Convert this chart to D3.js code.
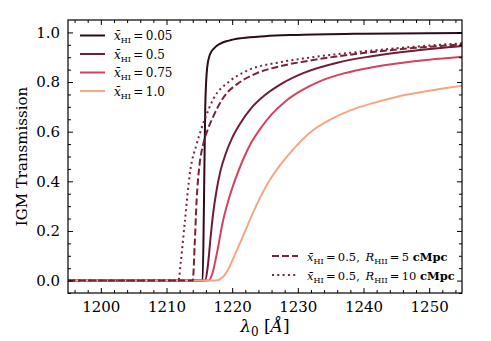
<!DOCTYPE html>
<html>
<head>
<meta charset="utf-8">
<script src="https://cdn.jsdelivr.net/npm/d3@7"></script>
<style>
  body { margin: 0; background: #fff; }
  svg, svg text { font-family: "DejaVu Serif", serif; }
</style>
</head>
<body>
<div id="chart"></div>
<script>
const W = 491, H = 341;
const margin = { left: 68, right: 29, top: 20, bottom: 48 };

// curves (wavelength in Angstrom, transmission)
const lamBlack = [1195, 1215.5, 1215.7, 1215.9, 1216.2, 1216.6, 1217.2, 1218.2, 1219.5, 1221.5, 1225, 1230, 1240, 1255];
const tBlack   = [0, 0, 0.3, 0.7, 0.86, 0.91, 0.935, 0.955, 0.967, 0.977, 0.985, 0.99, 0.995, 0.998];

const lamHalf = [1195, 1215.9, 1216.3, 1216.7, 1217.1, 1217.6, 1218.2, 1219, 1220, 1221.2, 1223, 1225, 1227.5, 1231, 1236, 1241, 1248, 1255];
const tHalf   = [0, 0, 0.06, 0.17, 0.27, 0.36, 0.44, 0.51, 0.575, 0.632, 0.698, 0.748, 0.793, 0.838, 0.878, 0.903, 0.927, 0.945];

const lamThreeQ = [1195, 1216.4, 1217, 1217.6, 1218.6, 1219.5, 1220.5, 1221.7, 1223, 1224.5, 1226, 1228, 1230.5, 1233.5, 1237, 1241, 1246, 1250, 1255];
const tThreeQ   = [0, 0, 0.03, 0.1, 0.24, 0.33, 0.41, 0.49, 0.56, 0.62, 0.67, 0.72, 0.765, 0.805, 0.835, 0.858, 0.878, 0.89, 0.902];

const lamOne = [1195, 1217.5, 1218.5, 1219.5, 1220.5, 1221.5, 1222.7, 1224, 1225.5, 1227.3, 1229.5, 1232, 1235, 1238, 1241, 1245, 1250, 1255];
const tOne   = [0, 0, 0.012, 0.05, 0.11, 0.17, 0.245, 0.32, 0.395, 0.465, 0.535, 0.6, 0.65, 0.686, 0.712, 0.74, 0.765, 0.785];

const lamR5 = [1195, 1214.0, 1214.3, 1214.6, 1215.0, 1215.6, 1216.3, 1217.1, 1218.6, 1221.2, 1223.7, 1227.3, 1230.8, 1235.9, 1241, 1248, 1255];
const tR5   = [0, 0, 0.15, 0.33, 0.46, 0.55, 0.61, 0.66, 0.735, 0.8, 0.835, 0.864, 0.882, 0.903, 0.92, 0.938, 0.952];

const lamR10 = [1195, 1211.8, 1212.2, 1212.8, 1213.6, 1214.6, 1215.9, 1217.1, 1219.7, 1222.2, 1227.3, 1230.8, 1235.9, 1241, 1248, 1255];
const tR10   = [0, 0, 0.08, 0.24, 0.44, 0.55, 0.655, 0.73, 0.805, 0.845, 0.88, 0.895, 0.912, 0.926, 0.943, 0.956];

const xTicks = [1200, 1210, 1220, 1230, 1240, 1250];
const yTicks = [0.0, 0.2, 0.4, 0.6, 0.8, 1.0];

const series = [
  { lam: lamBlack,  t: tBlack,  color: "#2b0b1c", dash: null,  label: "0.05" },
  { lam: lamHalf,   t: tHalf,   color: "#6f1d36", dash: null,  label: "0.5" },
  { lam: lamThreeQ, t: tThreeQ, color: "#d5415f", dash: null,  label: "0.75" },
  { lam: lamOne,    t: tOne,    color: "#f9a583", dash: null,  label: "1.0" },
  { lam: lamR5,     t: tR5,     color: "#7a2238", dash: "7,3", label: "5" },
  { lam: lamR10,    t: tR10,    color: "#7a2238", dash: "2,3.3", label: "10" }
];

const FONT = "'DejaVu Serif', serif";
const svg = d3.select("#chart").append("svg").attr("width", W).attr("height", H);

const x = d3.scaleLinear().domain([1195, 1255]).range([margin.left, W - margin.right]);
const y = d3.scaleLinear().domain([-0.05, 1.05]).range([H - margin.bottom, margin.top]);

svg.append("clipPath").attr("id", "clip").append("rect")
  .attr("x", margin.left).attr("y", margin.top)
  .attr("width", W - margin.left - margin.right)
  .attr("height", H - margin.top - margin.bottom);

const line = d3.line().x(d => x(d[0])).y(d => y(d[1])).curve(d3.curveMonotoneX);

const plot = svg.append("g").attr("clip-path", "url(#clip)");
series.forEach(s => {
  plot.append("path")
    .datum(s.lam.map((l, i) => [l, s.t[i]]))
    .attr("fill", "none")
    .attr("stroke", s.color)
    .attr("stroke-width", 2)
    .attr("stroke-dasharray", s.dash)
    .attr("d", line);
});

// axes, ticks inward on all sides
const xMinor = d3.range(1196, 1255, 2).filter(v => v % 10 !== 0);
const yMinor = d3.range(-0.05, 1.05, 0.05).map(v => +v.toFixed(2)).filter(v => Math.abs(v * 5 - Math.round(v * 5)) > 1e-6);

function axisG(axis, tx, ty) {
  const g = svg.append("g").attr("transform", `translate(${tx},${ty})`).call(axis);
  g.attr("font-family", null).attr("font-size", null);
  g.select(".domain").remove();
  g.selectAll("line").attr("stroke", "#000").attr("stroke-width", 1);
  g.selectAll("text").style("font-family", FONT).style("font-size", "15px").attr("fill", "#000");
  return g;
}

const bottomY = H - margin.bottom, topY = margin.top, leftX = margin.left, rightX = W - margin.right;

axisG(d3.axisBottom(x).tickValues(xTicks).tickSize(-5).tickPadding(8).tickFormat(d3.format("d")), 0, bottomY);
axisG(d3.axisBottom(x).tickValues(xMinor).tickSize(-3).tickFormat(""), 0, bottomY);
axisG(d3.axisTop(x).tickValues(xTicks).tickSize(-5).tickFormat(""), 0, topY);
axisG(d3.axisTop(x).tickValues(xMinor).tickSize(-3).tickFormat(""), 0, topY);

axisG(d3.axisLeft(y).tickValues(yTicks).tickSize(-5).tickPadding(8).tickFormat(d3.format(".1f")), leftX, 0);
axisG(d3.axisLeft(y).tickValues(yMinor).tickSize(-3).tickFormat(""), leftX, 0);
axisG(d3.axisRight(y).tickValues(yTicks).tickSize(-5).tickFormat(""), rightX, 0);
axisG(d3.axisRight(y).tickValues(yMinor).tickSize(-3).tickFormat(""), rightX, 0);

svg.append("rect")
  .attr("x", leftX).attr("y", topY)
  .attr("width", rightX - leftX).attr("height", bottomY - topY)
  .attr("fill", "none").attr("stroke", "#000").attr("stroke-width", 1.2);

// axis labels
svg.append("text")
  .attr("transform", `translate(27,${(topY + bottomY) / 2}) rotate(-90)`)
  .attr("text-anchor", "middle")
  .style("font-family", FONT).style("font-size", "15px")
  .text("IGM Transmission");

const xl = svg.append("text")
  .attr("x", (leftX + rightX) / 2).attr("y", 332)
  .attr("text-anchor", "middle")
  .style("font-family", FONT).style("font-size", "17px");
xl.append("tspan").attr("font-style", "italic").text("λ");
xl.append("tspan").style("font-size", "12px").attr("dy", 4).text("0");
xl.append("tspan").attr("dy", -4).text(" [");
xl.append("tspan").attr("font-style", "italic").text("Å");
xl.append("tspan").text("]");

// legends
function xhi(t) {
  t.append("tspan").attr("font-style", "italic").text("x̄");
  t.append("tspan").style("font-size", "8px").attr("dy", 3).text("HI");
}

const legTop = svg.append("g");
series.slice(0, 4).forEach((s, i) => {
  const ly = 35.5 + i * 18.5;
  legTop.append("line").attr("x1", 80).attr("x2", 105).attr("y1", ly).attr("y2", ly)
    .attr("stroke", s.color).attr("stroke-width", 2);
  const t = legTop.append("text").attr("x", 114).attr("y", ly + 4.5)
    .style("font-family", FONT).style("font-size", "12px");
  xhi(t);
  t.append("tspan").attr("dy", -3).text("\u2009=\u2009" + s.label);
});

const legBot = svg.append("g");
series.slice(4).forEach((s, i) => {
  const ly = 256 + i * 19;
  legBot.append("line").attr("x1", 272).attr("x2", 298).attr("y1", ly).attr("y2", ly)
    .attr("stroke", s.color).attr("stroke-width", 2).attr("stroke-dasharray", s.dash);
  const t = legBot.append("text").attr("x", 307).attr("y", ly + 4.5)
    .style("font-family", FONT).style("font-size", "11.5px");
  xhi(t);
  t.append("tspan").attr("dy", -3).text("\u2009=\u20090.5,\u2002");
  t.append("tspan").attr("font-style", "italic").text("R");
  t.append("tspan").style("font-size", "8px").attr("dy", 3).text("HII");
  t.append("tspan").attr("dy", -3).text("\u2009=\u2009" + s.label + " ");
  t.append("tspan").attr("font-weight", "bold").text("cMpc");
});
</script>
</body>
</html>
